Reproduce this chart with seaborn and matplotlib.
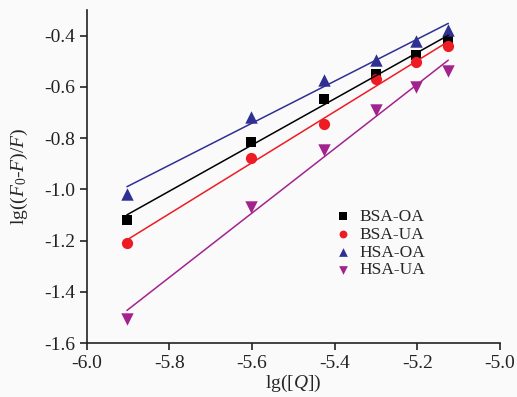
import matplotlib
matplotlib.use("Agg")
import matplotlib.pyplot as plt
import matplotlib.ticker as mticker
import seaborn as sns
import numpy as np

# lg([Q]) for Q = 1.25 ... 7.5 µM
x_vals = [-5.903, -5.602, -5.426, -5.301, -5.204, -5.125]

bsa_oa = [-1.119, -0.814, -0.646, -0.552, -0.474, -0.420]
bsa_ua = [-1.209, -0.877, -0.744, -0.568, -0.505, -0.439]
hsa_oa = [-1.017, -0.716, -0.572, -0.497, -0.420, -0.377]
hsa_ua = [-1.505, -1.070, -0.845, -0.690, -0.600, -0.540]

series_names = ["BSA-OA", "BSA-UA", "HSA-OA", "HSA-UA"]
series_vals = [bsa_oa, bsa_ua, hsa_oa, hsa_ua]
colors = ["#000000", "#ed1c24", "#2e3192", "#a3238e"]
markers = ["s", "o", "^", "v"]
marker_sizes = [55, 65, 80, 80]

sns.set_style("ticks")
plt.rcParams['font.family'] = ['Liberation Serif', 'DejaVu Serif']
plt.rcParams['mathtext.fontset'] = 'custom'
plt.rcParams['mathtext.rm'] = 'Liberation Serif'
plt.rcParams['mathtext.it'] = 'Liberation Serif:italic'

fig = plt.figure(figsize=(5.17, 3.97), dpi=100)
fig.patch.set_facecolor("#fafafa")
ax = fig.add_axes([0.168, 0.136, 0.799, 0.839])
ax.set_facecolor("#fafafa")

handles = []
for name, vals, c, m, sz in zip(series_names, series_vals, colors, markers, marker_sizes):
    sns.regplot(x=np.array(x_vals), y=np.array(vals), ci=None, ax=ax,
                marker=m, color=c,
                scatter_kws={"s": sz, "linewidths": 0, "label": name, "alpha": 1},
                line_kws={"linewidth": 1.1})
    handles.append(ax.collections[-1])

ax.set_xlim(-6.0, -5.0)
ax.set_ylim(-1.6, -0.3)
ax.set_xticks([-6.0, -5.8, -5.6, -5.4, -5.2, -5.0])
ax.set_yticks([-1.6, -1.4, -1.2, -1.0, -0.8, -0.6, -0.4])
ax.xaxis.set_major_formatter(mticker.FormatStrFormatter('%.1f'))
ax.yaxis.set_major_formatter(mticker.FormatStrFormatter('%.1f'))
ax.tick_params(direction='out', length=5, width=1.2, labelsize=14, colors='#222222')
for s in ["left", "bottom"]:
    ax.spines[s].set_linewidth(1.2)
    ax.spines[s].set_color('#222222')
sns.despine(ax=ax)

ax.set_xlabel(r"lg([$Q$])", fontsize=14, labelpad=1)
ax.set_ylabel(r"lg(($F_0$-$F$)/$F$)", fontsize=14, labelpad=10)

ax.legend(handles=handles, labels=series_names, loc="upper left",
          bbox_to_anchor=(0.575, 0.44), frameon=False, fontsize=12.5,
          handlelength=0.8, handletextpad=0.5, labelspacing=0.1,
          borderpad=0.2, markerscale=0.7)

fig.savefig("out.png", dpi=100, facecolor=fig.get_facecolor())
